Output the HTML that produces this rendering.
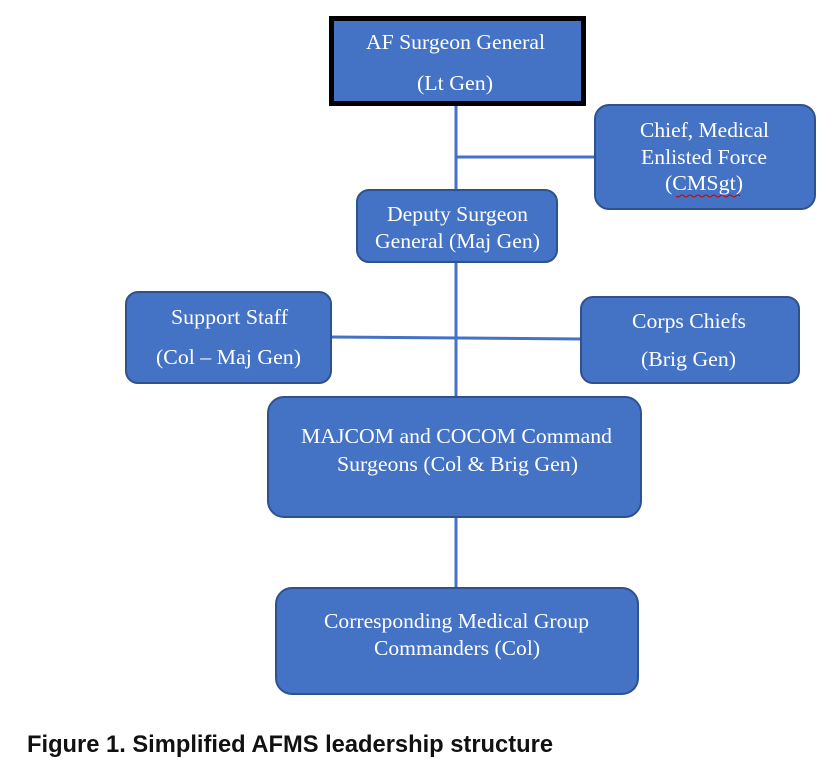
<!DOCTYPE html>
<html><head><meta charset="utf-8"><style>
html,body{margin:0;padding:0;background:#fff;}
svg{display:block;}
.t{font-family:"Liberation Serif",serif;font-size:21px;fill:#fff;}
.b{fill:#4472C4;stroke:#2F528F;stroke-width:2;}
</style></head><body>
<svg width="832" height="759" viewBox="0 0 832 759" xmlns="http://www.w3.org/2000/svg">
<g stroke="#4472C4" stroke-width="3" fill="none">
<line x1="456" y1="104" x2="456" y2="398"/>
<line x1="456" y1="157" x2="596" y2="157"/>
<line x1="330" y1="337" x2="582" y2="339"/>
<line x1="456" y1="516" x2="456" y2="589"/>
</g>
<rect x="331.5" y="18.5" width="252" height="85" fill="#4472C4" stroke="#000" stroke-width="5"/>
<rect class="b" x="595" y="105" width="220" height="104" rx="14"/>
<rect class="b" x="357" y="190" width="200" height="72" rx="12"/>
<rect class="b" x="126" y="292" width="205" height="91" rx="12"/>
<rect class="b" x="581" y="297" width="218" height="86" rx="12"/>
<rect class="b" x="268" y="397" width="373" height="120" rx="16"/>
<rect class="b" x="276" y="588" width="362" height="106" rx="16"/>
<g class="t">
<text x="366" y="49" textLength="179" lengthAdjust="spacingAndGlyphs">AF Surgeon General</text>
<text x="417" y="90" textLength="76" lengthAdjust="spacingAndGlyphs">(Lt Gen)</text>
<text x="640" y="137" textLength="129" lengthAdjust="spacingAndGlyphs">Chief, Medical</text>
<text x="641" y="164" textLength="126" lengthAdjust="spacingAndGlyphs">Enlisted Force</text>
<text x="665" y="190" textLength="78" lengthAdjust="spacingAndGlyphs">(CMSgt)</text>
<text x="387" y="221" textLength="141" lengthAdjust="spacingAndGlyphs">Deputy Surgeon</text>
<text x="375" y="248" textLength="165" lengthAdjust="spacingAndGlyphs">General (Maj Gen)</text>
<text x="171" y="324" textLength="117" lengthAdjust="spacingAndGlyphs">Support Staff</text>
<text x="156" y="364" textLength="145" lengthAdjust="spacingAndGlyphs">(Col – Maj Gen)</text>
<text x="632" y="328" textLength="114" lengthAdjust="spacingAndGlyphs">Corps Chiefs</text>
<text x="641" y="366" textLength="95" lengthAdjust="spacingAndGlyphs">(Brig Gen)</text>
<text x="301" y="443" textLength="311" lengthAdjust="spacingAndGlyphs">MAJCOM and COCOM Command</text>
<text x="337" y="471" textLength="241" lengthAdjust="spacingAndGlyphs">Surgeons (Col &amp; Brig Gen)</text>
<text x="324" y="628" textLength="265" lengthAdjust="spacingAndGlyphs">Corresponding Medical Group</text>
<text x="374" y="655" textLength="166" lengthAdjust="spacingAndGlyphs">Commanders (Col)</text>
</g>
<path d="M676 196 q2 2 4 0 t4 0 t4 0 t4 0 t4 0 t4 0 t4 0 t4 0 t4 0 t4 0 t4 0 t4 0 t4 0 t4 0 t4 0 t4 0" stroke="#c00" stroke-width="1" fill="none"/>
<text x="27" y="752" textLength="526" lengthAdjust="spacingAndGlyphs" style="font-family:'Liberation Sans',sans-serif;font-weight:bold;font-size:24px;fill:#111;">Figure 1. Simplified AFMS leadership structure</text>
</svg>
</body></html>
